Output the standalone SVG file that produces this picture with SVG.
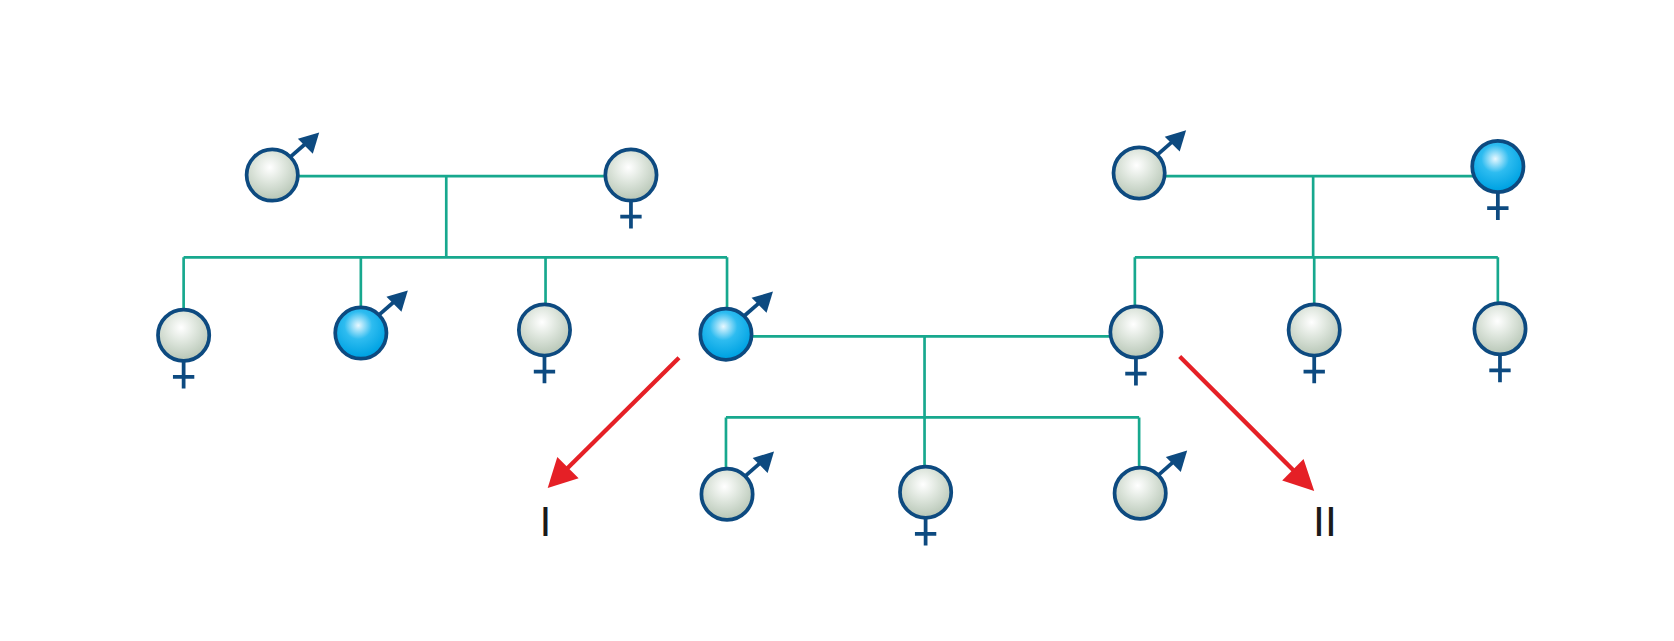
<svg xmlns="http://www.w3.org/2000/svg" width="1674" height="641" viewBox="0 0 1674 641">
<style>
.c{stroke:#0d4a80;stroke-width:3.5}
.g{fill:url(#gg)}
.b{fill:url(#gb)}
.s{stroke:#0d4a80;stroke-width:3.5;fill:none}
.h{fill:#0d4a80}
.ln{stroke:#17a88e;stroke-width:2.5;fill:none}
.r{stroke:#e52026;stroke-width:4;fill:none}
.t{font-family:"Liberation Sans",Arial,sans-serif;font-size:40px;fill:#1a1a1a;text-anchor:middle}
</style>
<defs>
<radialGradient id="gg" cx="0.45" cy="0.35" r="0.6"><stop offset="0" stop-color="#ffffff"/><stop offset="0.5" stop-color="#dde5dc"/><stop offset="1" stop-color="#bccabb"/></radialGradient>
<radialGradient id="gb" cx="0.45" cy="0.35" r="0.6"><stop offset="0" stop-color="#e8f8ff"/><stop offset="0.45" stop-color="#2ebcf0"/><stop offset="1" stop-color="#00a3e3"/></radialGradient>
<g id="m"><path class="s" d="M17,-17 L33,-31"/><polygon class="h" points="44,-40 24,-34 38,-20"/></g>
<g id="f"><path class="s" d="M0,24 V50 M-10,39 H10"/></g>
</defs>
<g transform="scale(1.0676)">
<g id="connectors">
<path class="ln" d="M279,165 H567 M418,165 V241 M172,241 H681 M172,241 V290 M338,241 V288 M511,241 V285 M681,241 V289"/>
<path class="ln" d="M1091,165 H1380 M1230,165 V241 M1063,241 H1403 M1063,241 V287 M1231,241 V285 M1403,241 V284"/>
<path class="ln" d="M704,315 H1040 M866,315 V391 M680,391 H1067 M680,391 V439 M866,391 V437 M1067,391 V438"/>
<path class="r" d="M636,335 L527,443"/><polygon fill="#e52026" points="513,457 522,428 542,448"/>
<path class="r" d="M1105,334 L1218,447"/><polygon fill="#e52026" points="1231,460 1201,450 1221,430"/>
</g>
<g id="n1" transform="translate(255,164)"><circle class="c g" r="24"/><use href="#m"/></g>
<g id="n2" transform="translate(591,164)"><circle class="c g" r="24"/><use href="#f"/></g>
<g id="n3" transform="translate(172,314)"><circle class="c g" r="24"/><use href="#f"/></g>
<g id="n4" transform="translate(338,312)"><circle class="c b" r="24"/><use href="#m"/></g>
<g id="n5" transform="translate(510,309)"><circle class="c g" r="24"/><use href="#f"/></g>
<g id="n6" transform="translate(680,313)"><circle class="c b" r="24"/><use href="#m"/></g>
<g id="n7" transform="translate(1067,162)"><circle class="c g" r="24"/><use href="#m"/></g>
<g id="n8" transform="translate(1403,156)"><circle class="c b" r="24"/><use href="#f"/></g>
<g id="n9" transform="translate(1064,311)"><circle class="c g" r="24"/><use href="#f"/></g>
<g id="n10" transform="translate(1231,309)"><circle class="c g" r="24"/><use href="#f"/></g>
<g id="n11" transform="translate(1405,308)"><circle class="c g" r="24"/><use href="#f"/></g>
<g id="n12" transform="translate(681,463)"><circle class="c g" r="24"/><use href="#m"/></g>
<g id="n13" transform="translate(867,461)"><circle class="c g" r="24"/><use href="#f"/></g>
<g id="n14" transform="translate(1068,462)"><circle class="c g" r="24"/><use href="#m"/></g>
<g id="labels"><text class="t" x="511" y="502">I</text><text class="t" x="1241" y="502">II</text></g>
</g>
</svg>
